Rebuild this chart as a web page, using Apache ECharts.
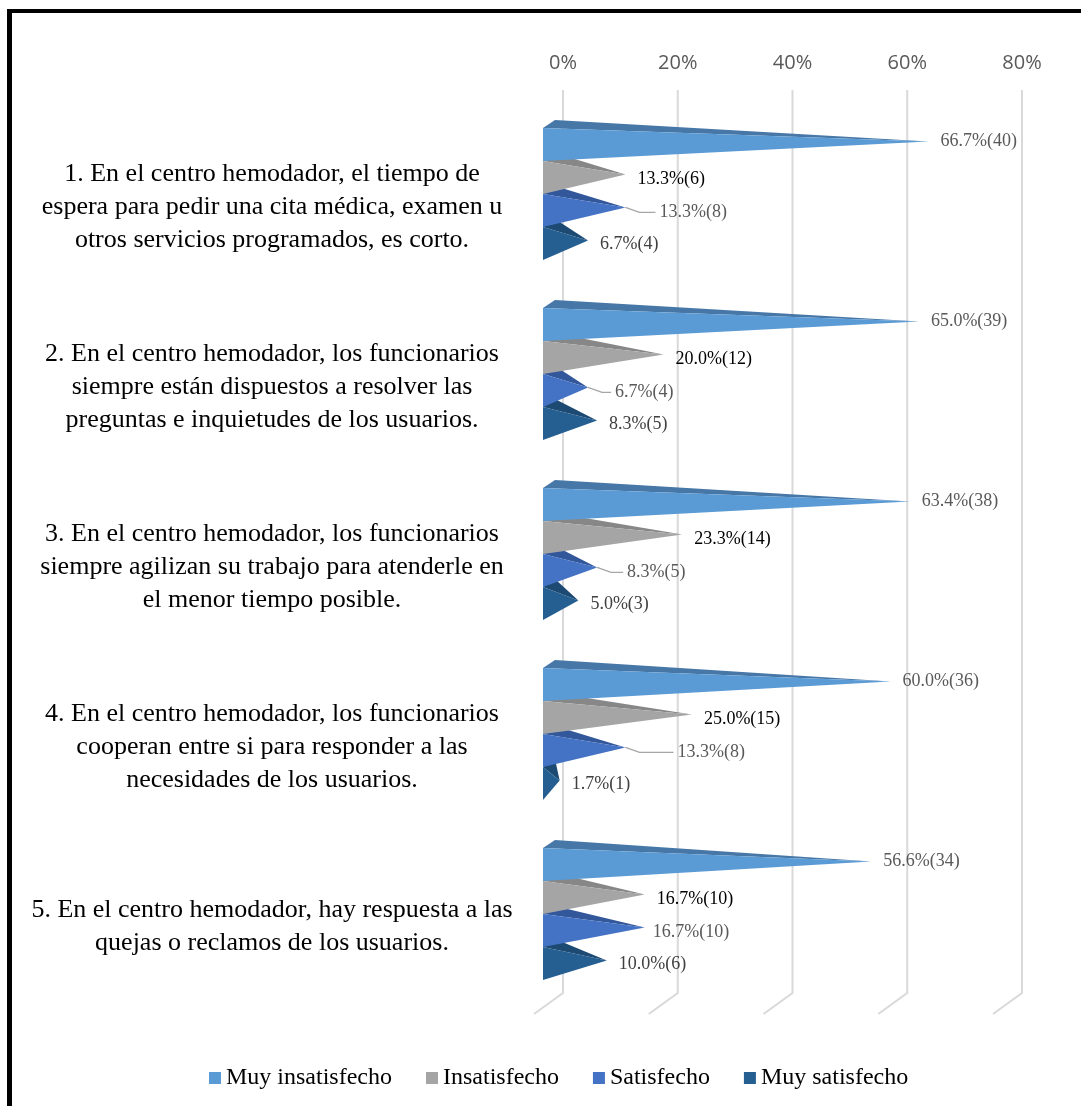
<!DOCTYPE html>
<html>
<head>
<meta charset="utf-8">
<script src="https://cdn.jsdelivr.net/npm/echarts@6/dist/echarts.min.js"></script>
<style>
  html, body { margin: 0; padding: 0; background: #fff; }
  #chart { width: 1081px; height: 1106px; }
</style>
</head>
<body>
<div id="chart"></div>
<script>
// Survey items (category axis labels, line breaks as printed)
const categories = [
  '1. En el centro hemodador, el tiempo de\nespera para pedir una cita médica, examen u\notros servicios programados, es corto.',
  '2. En el centro hemodador, los funcionarios\nsiempre están dispuestos a resolver las\npreguntas e inquietudes de los usuarios.',
  '3. En el centro hemodador, los funcionarios\nsiempre agilizan su trabajo para atenderle en\nel menor tiempo posible.',
  '4. En el centro hemodador, los funcionarios\ncooperan entre si para responder a las\nnecesidades de los usuarios.',
  '5. En el centro hemodador, hay respuesta a las\nquejas o reclamos de los usuarios.'
];

const seriesNames = ['Muy insatisfecho', 'Insatisfecho', 'Satisfecho', 'Muy satisfecho'];

// Percentages and respondent counts per answer option
const muyInsatisfechoPct = [66.7, 65.0, 63.4, 60.0, 56.6];
const muyInsatisfechoN   = [40, 39, 38, 36, 34];
const insatisfechoPct    = [13.3, 20.0, 23.3, 25.0, 16.7];
const insatisfechoN      = [6, 12, 14, 15, 10];
const satisfechoPct      = [13.3, 6.7, 8.3, 13.3, 16.7];
const satisfechoN        = [8, 4, 5, 8, 10];
const muySatisfechoPct   = [6.7, 8.3, 5.0, 1.7, 10.0];
const muySatisfechoN     = [4, 5, 3, 1, 6];

// Axis tick values (percent)
const xTicks = [0, 20, 40, 60, 80];

// Styling
const frontColors = ['#5b9bd5', '#a5a5a5', '#4472c4', '#255e91'];
const topColors   = ['#4677a7', '#878787', '#33579b', '#1d4a73'];
const labelColors = ['#595959', '#000000', '#595959', '#404040'];
const labelDy     = [-3, 2, 2, 1];
// Extra room for the leader-lined "Satisfecho" labels
const satisfechoLabelGap = [34, 27, 30, 52, 8];

const pctSets = [muyInsatisfechoPct, insatisfechoPct, satisfechoPct, muySatisfechoPct];
const nSets   = [muyInsatisfechoN, insatisfechoN, satisfechoN, muySatisfechoN];

const SERIF = '"Liberation Serif", "Times New Roman", serif';

function pyramidRenderer(s) {
  return function (params, api) {
    const v = api.value(0);
    const cat = api.value(1);
    const zero = api.coord([0, cat]);
    const end = api.coord([v, cat]);
    const band = api.size([0, 1])[1];
    const rowH = band * 0.183;
    const cy = zero[1] + (s - 1.5) * rowH;
    const yTop = cy - rowH / 2;
    const yBot = cy + rowH / 2;
    const xb = zero[0] - 7;          // front face sits in front of the back wall
    const tip = [end[0], cy - 3];
    const children = [
      {
        type: 'polygon',
        shape: { points: [[xb, yTop], [xb + 12, yTop - 8], tip] },
        style: { fill: topColors[s] }
      },
      {
        type: 'polygon',
        shape: { points: [[xb, yTop], [xb, yBot], tip] },
        style: { fill: frontColors[s] }
      }
    ];
    const idx = params.dataIndex;
    const text = pctSets[s][idx].toFixed(1) + '%(' + nSets[s][idx] + ')';
    let gap = 12;
    if (s === 2) {
      gap = satisfechoLabelGap[idx];
      if (gap > 15) {
        children.push({
          type: 'polyline',
          shape: { points: [[tip[0], tip[1]], [tip[0] + 14, tip[1] + 5], [tip[0] + gap - 4, tip[1] + 5]] },
          style: { stroke: '#a6a6a6', lineWidth: 1.3, fill: null }
        });
      }
    }
    children.push({
      type: 'text',
      style: {
        text: text,
        x: tip[0] + gap,
        y: cy + labelDy[s],
        fill: labelColors[s],
        fontSize: 18,
        fontFamily: SERIF,
        align: 'left',
        verticalAlign: 'middle'
      }
    });
    return { type: 'group', children: children };
  };
}

const barSeries = seriesNames.map((name, s) => ({
  name: name,
  type: 'custom',
  xAxisIndex: 1,
  yAxisIndex: 1,
  z: 20 - s,
  itemStyle: { color: frontColors[s] },
  renderItem: pyramidRenderer(s),
  data: pctSets[s].map((v, i) => [v, i])
}));

const wallSeries = {
  type: 'custom',
  xAxisIndex: 0,
  yAxisIndex: 0,
  z: 1,
  silent: true,
  renderItem: function (params, api) {
    const x = api.coord([api.value(0), 0])[0];
    const cs = params.coordSys;
    const bottom = cs.y + cs.height;
    return {
      type: 'polyline',
      shape: { points: [[x, cs.y], [x, bottom], [x - 29, bottom + 21]] },
      style: { stroke: '#d9d9d9', lineWidth: 2, fill: null }
    };
  },
  data: xTicks.map(v => [v, 0])
};

const chart = echarts.init(document.getElementById('chart'));
chart.setOption({
  backgroundColor: '#ffffff',
  animation: false,
  grid: [
    // back wall with the percent scale
    { left: 563, top: 90, width: 459, height: 903 },
    // pyramids
    { left: 550, top: 104, width: 454, height: 900 },
    // item texts, set slightly lower than the bars they describe
    { left: 550, top: 117, width: 454, height: 900 }
  ],
  xAxis: [
    {
      gridIndex: 0,
      type: 'value',
      position: 'top',
      min: 0, max: 80, interval: 20,
      axisLine: { show: false },
      axisTick: { show: false },
      splitLine: { show: false },
      axisLabel: {
        formatter: '{value}%',
        margin: 17,
        fontSize: 20,
        color: '#595959',
        fontFamily: '"Open Sans", sans-serif'
      }
    },
    { gridIndex: 1, type: 'value', min: 0, max: 80, show: false },
    { gridIndex: 2, type: 'value', min: 0, max: 80, show: false }
  ],
  yAxis: [
    { gridIndex: 0, type: 'value', min: 0, max: 1, show: false },
    {
      gridIndex: 1,
      type: 'category',
      inverse: true,
      data: categories,
      axisLine: { show: false },
      axisTick: { show: false },
      splitLine: { show: false },
      axisLabel: { show: false }
    },
    {
      gridIndex: 2,
      type: 'category',
      inverse: true,
      data: categories,
      axisLine: { show: false },
      axisTick: { show: false },
      splitLine: { show: false },
      axisLabel: {
        margin: 278,
        align: 'center',
        fontSize: 26,
        lineHeight: 33,
        color: '#000000',
        fontFamily: SERIF
      }
    }
  ],
  legend: {
    data: seriesNames,
    left: 204,
    top: 1061,
    icon: 'rect',
    itemWidth: 12,
    itemHeight: 12,
    itemGap: 34,
    textStyle: { fontSize: 24, color: '#000000', fontFamily: SERIF }
  },
  graphic: [
    { type: 'rect', left: 7, top: 9, shape: { width: 5, height: 1097 }, style: { fill: '#000' } },
    { type: 'rect', left: 7, top: 9, shape: { width: 1074, height: 4 }, style: { fill: '#000' } }
  ],
  series: [wallSeries].concat(barSeries)
});
</script>
</body>
</html>
